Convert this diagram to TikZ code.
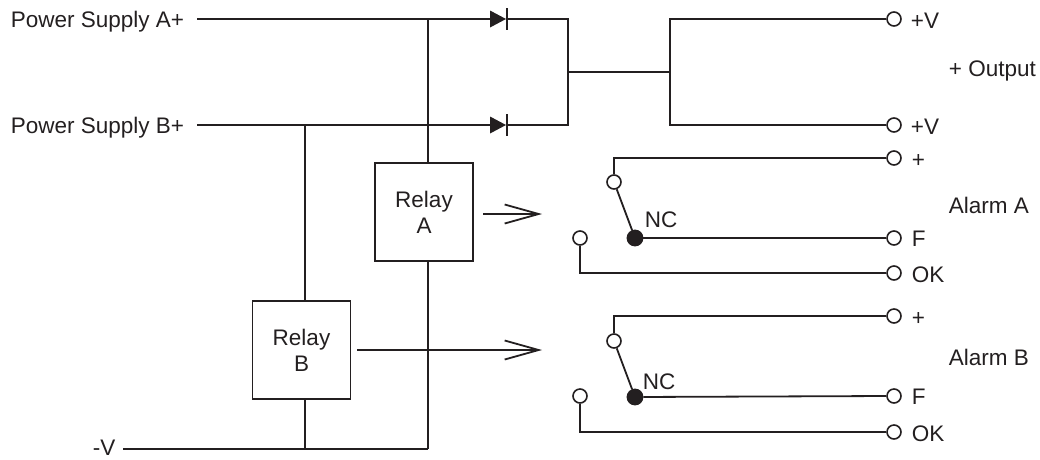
\documentclass[tikz,border=0pt]{standalone}
\usepackage{fontspec}
\setmainfont{Liberation Sans}
\usetikzlibrary{arrows.meta,calc}
\definecolor{ink}{RGB}{35,31,32}
\begin{document}
\begin{tikzpicture}[x=1pt,y=-1pt,color=ink,line width=1.8pt,
  lbl/.style={inner sep=0pt,text=ink,font=\fontsize{22.5}{26}\selectfont,anchor=base west},
  term/.style={circle,draw=ink,fill=white,line width=1.6pt,minimum size=14pt,inner sep=0pt},
  cdot/.style={circle,draw=ink,fill=ink,minimum size=15pt,inner sep=0pt},
  relay/.style={draw=ink,line width=1.8pt,minimum width=98pt,minimum height=98pt,inner sep=0pt,align=center,text=ink,font=\fontsize{22.5}{26}\selectfont},
  sig/.style={-{Straight Barb[length=34pt,width=19pt,line width=1.8pt]}}]
\useasboundingbox (0,0) rectangle (1040,459);
% labels
\node[lbl] (psA) at (10,27) {Power Supply A+};
\node[lbl] (psB) at (10,133) {Power Supply B+};
\node[lbl] (nV) at (92,455) {-V};
\node[lbl] (vA) at (910,28) {+V};
\node[lbl] (vB) at (910,134) {+V};
\node[lbl] (out) at (948,76) {+ Output};
\node[lbl] (alA) at (948,213) {Alarm A};
\node[lbl] (alB) at (948,365) {Alarm B};
\node[lbl] (ncAl) at (644,227) {NC};
\node[lbl] (ncBl) at (642,389) {NC};
% terminals
\node[term] (tV1) at (894,19) {};
\node[term] (tV2) at (894,125) {};
\node[term] (tAp) at (894,158) {};
\node[term] (tAF) at (894,238) {};
\node[term] (tAok) at (894,273) {};
\node[term] (tBp) at (894,316) {};
\node[term] (tBF) at (894,396) {};
\node[term] (tBok) at (894,432) {};
\node[lbl] at (911,167) {+};
\node[lbl] at (911,246) {F};
\node[lbl] at (911,282) {OK};
\node[lbl] at (911,325) {+};
\node[lbl] at (911,404) {F};
\node[lbl] at (911,441) {OK};
% relays
\node[relay] (rA) at (424,212) {Relay\\A};
\node[relay] (rB) at (301.5,350) {Relay\\B};
% coordinates
\coordinate (a0) at (197,19);
\coordinate (b0) at (197,125);
\coordinate (v0) at (123,449);
\coordinate (xA) at (428,19);
\coordinate (xB) at (305,125);
\coordinate (dA) at (490,19);
\coordinate (dB) at (490,125);
\coordinate (jA) at (568,19);
\coordinate (jB) at (568,125);
\coordinate (jM) at (568,72);
\coordinate (kM) at (670,72);
\coordinate (kA) at (670,19);
\coordinate (kB) at (670,125);
% supply lines and diodes
\draw (a0) -- (dA);
\draw (b0) -- (dB);
\foreach \d in {dA,dB}{
  \fill[ink] ($(\d)+(0,-8.5)$) -- ($(\d)+(16,0)$) -- ($(\d)+(0,8.5)$) -- cycle;
  \draw ($(\d)+(17,-11)$) -- ($(\d)+(17,11)$);
}
\draw ($(dA)+(17,0)$) -- (jA) -- (jB) -- ($(dB)+(17,0)$);
\draw (jM) -- (kM);
\draw (tV1.west) -- (kA) -- (kB) -- (tV2.west);
% relay feeds
\draw (xA) -- (xA |- rA.north);
\draw (xA |- rA.south) -- (xA |- v0);
\draw (xB) -- (xB |- rB.north);
\draw (xB |- rB.south) -- (xB |- v0);
\draw (v0) -- (xA |- v0);
% signal arrows
\draw[sig] (483,214) -- (542,214);
\draw[sig] (rB.east) ++(6,0) -- (542,350);
% alarm A contacts
\node[term] (cA) at (614,182) {};
\node[cdot] (nA) at (635,238) {};
\node[term] (oA) at (580,238) {};
\draw (cA.north) |- (tAp.west);
\draw (cA) -- (nA);
\draw (nA) -- (tAF.west);
\draw (oA.south) |- (tAok.west);
% alarm B contacts
\node[term] (cB) at (614,341) {};
\node[cdot] (nB) at (635,397) {};
\node[term] (oB) at (580,396) {};
\draw (cB.north) |- (tBp.west);
\draw (cB) -- (nB);
\draw (nB) -- (tBF.west);
\draw (oB.south) |- (tBok.west);
\end{tikzpicture}
\end{document}
